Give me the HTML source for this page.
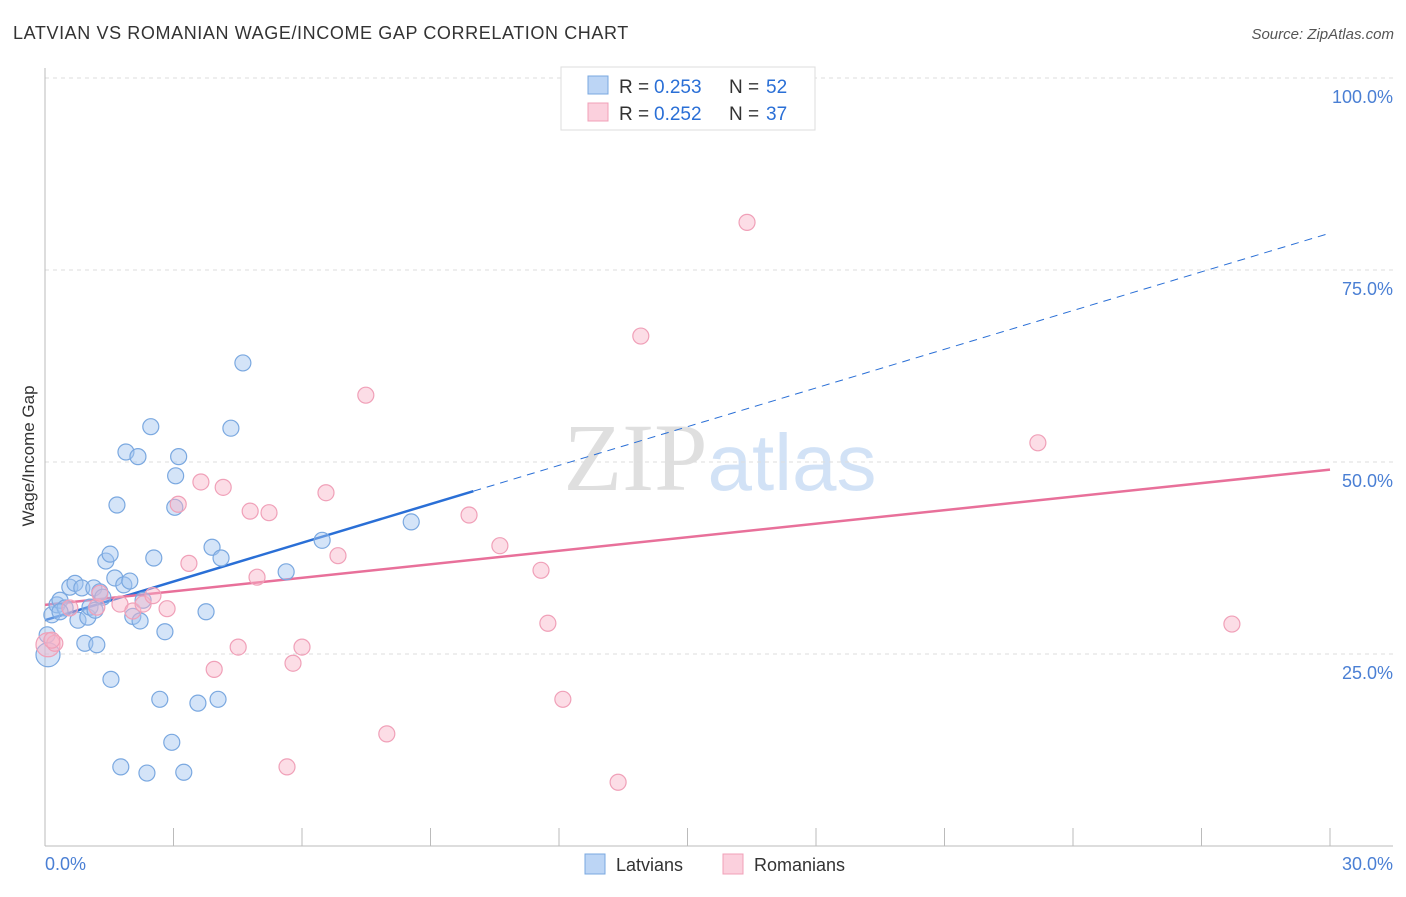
<!DOCTYPE html>
<html><head><meta charset="utf-8"><style>
body{margin:0;background:#fff;font-family:"Liberation Sans",sans-serif}
svg text{font-family:"Liberation Sans",sans-serif}
</style></head><body>
<svg id="chart" width="1406" height="892" viewBox="0 0 1406 892" xmlns="http://www.w3.org/2000/svg">
<text x="13" y="39" font-size="18" fill="#333" letter-spacing="0.6">LATVIAN VS ROMANIAN WAGE/INCOME GAP CORRELATION CHART</text>
<text x="1394" y="39" font-size="15" fill="#555" text-anchor="end" font-style="italic">Source: ZipAtlas.com</text>
<text x="720" y="490" font-size="96" text-anchor="middle" fill="#ddd" opacity="0.8"><tspan font-family="Liberation Serif" fill="#d8d8d8">ZIP</tspan><tspan fill="#c8dcf4" font-size="80">atlas</tspan></text>
<g id="grid"></g>
<g id="axes"></g>
<g id="lines"></g>
<g id="points"></g>
<text transform="translate(34,456) rotate(-90)" font-size="17" fill="#333" text-anchor="middle">Wage/Income Gap</text>
<text x="45" y="870" font-size="18" fill="#4a7fd4">0.0%</text>
<text x="1393" y="870" font-size="18" fill="#4a7fd4" text-anchor="end">30.0%</text>
<g>
<rect x="561" y="67" width="254" height="63" fill="#fff" stroke="#ddd"/>
<rect x="588" y="76" width="20" height="18" fill="#bcd5f5" stroke="#7aa8e0"/>
<rect x="588" y="103" width="20" height="18" fill="#fbd0dd" stroke="#f0a0b8"/>
<text x="619" y="93" font-size="19" fill="#333">R =</text>
<text x="654" y="93" font-size="19" fill="#2a6fd6">0.253</text>
<text x="729" y="93" font-size="19" fill="#333">N =</text>
<text x="766" y="93" font-size="19" fill="#2a6fd6">52</text>
<text x="619" y="120" font-size="19" fill="#333">R =</text>
<text x="654" y="120" font-size="19" fill="#2a6fd6">0.252</text>
<text x="729" y="120" font-size="19" fill="#333">N =</text>
<text x="766" y="120" font-size="19" fill="#2a6fd6">37</text>
</g>
<g>
<rect x="585" y="854" width="20" height="20" fill="#bcd5f5" stroke="#7aa8e0"/>
<text x="616" y="871" font-size="18" fill="#333">Latvians</text>
<rect x="723" y="854" width="20" height="20" fill="#fbd0dd" stroke="#f0a0b8"/>
<text x="754" y="871" font-size="18" fill="#333">Romanians</text>
</g>
</svg>
<script>
const latX=[0.16,0.28,0.35,0.47,0.58,0.70,0.77,0.86,0.93,1.00,1.05,1.14,1.21,1.28,1.35,1.42,1.52,1.54,1.63,1.68,1.77,1.84,1.89,1.98,2.05,2.17,2.22,2.29,2.38,2.47,2.54,2.68,2.80,2.96,3.03,3.05,3.12,3.24,3.57,3.76,3.90,4.04,4.11,4.34,4.62,5.63,6.47,8.55,0.07,0.05,1.17,0.35];
const latY=[30.1,31.4,32.0,31.0,33.7,34.2,29.4,33.6,26.4,29.8,31.1,33.6,26.2,33.1,32.4,37.1,38.0,21.7,34.9,44.4,10.3,34.0,51.3,34.5,29.9,50.7,29.3,32.0,9.5,54.6,37.5,19.1,27.9,13.5,44.1,48.2,50.7,9.6,18.6,30.5,38.9,19.1,37.5,54.4,62.9,35.7,39.8,42.2,24.9,27.5,30.7,30.5];
const romX=[0.07,0.23,0.58,1.21,1.28,1.75,2.05,2.29,2.52,2.85,3.11,3.36,3.64,3.95,4.16,4.51,4.79,4.95,5.23,5.65,5.79,6.00,6.56,6.84,7.49,7.98,9.90,10.62,11.58,11.74,12.09,13.38,13.91,16.39,23.18,27.71,0.16];
const romY=[26.2,26.4,31.0,31.1,32.9,31.5,30.6,31.5,32.6,30.9,44.5,36.8,47.4,23.0,46.7,25.9,43.6,35.0,43.4,10.3,23.8,25.9,46.0,37.8,58.7,14.6,43.1,39.1,35.9,29.0,19.1,8.3,66.4,81.2,52.5,28.9,26.8];
const latTrend=[29.4,1.68];
const romTrend=[31.4,0.587];
const yTicks=[25,50,75,100];
const xTicks=[0,3,6,9,12,15,18,21,24,27,30];
const NS="http://www.w3.org/2000/svg";
const X=v=>45+v*1285/30, Y=v=>846-v*192/25;
function mk(p,t,a){const e=document.createElementNS(NS,t);for(const k in a)e.setAttribute(k,a[k]);document.getElementById(p).appendChild(e);return e;}
yTicks.forEach(t=>{
 const g=mk('grid','line',{x1:45,x2:1393,y1:Y(t),y2:Y(t),stroke:'#ddd','stroke-dasharray':'4,4'});
 
 
 const l=mk('grid','text',{x:1393,y:Y(t)+25,'font-size':18,fill:'#4a7fd4','text-anchor':'end'});
 l.textContent=t.toFixed(1)+'%';
 
 
});
const ax=mk('axes','line',{x1:45,x2:45,y1:68,y2:846,stroke:'#bbb'});


const bx=mk('axes','line',{x1:45,x2:1393,y1:846,y2:846,stroke:'#bbb'});


xTicks.forEach(t=>{
 const k=mk('axes','line',{x1:X(t),x2:X(t),y1:828,y2:846,stroke:'#bbb'});
 
 
});
function pts(xs,ys,fill,stroke,name,bigIdx){xs.forEach((x,i)=>{
 const c=mk('points','circle',{cx:X(x),cy:Y(ys[i]),r:(i===bigIdx?12:8),fill:fill,stroke:stroke,'stroke-width':1.2});
 
 
});}
pts(latX,latY,'rgba(160,196,240,0.45)','#7aa8e0','latvian-point',48);
pts(romX,romY,'rgba(248,180,200,0.45)','#f0a0b8','romanian-point',0);
const l1=mk('lines','line',{x1:X(0),y1:Y(latTrend[0]),x2:X(10),y2:Y(latTrend[0]+10*latTrend[1]),stroke:'#2a6fd6','stroke-width':2.5});


const l2=mk('lines','line',{x1:X(10),y1:Y(latTrend[0]+10*latTrend[1]),x2:X(30),y2:Y(latTrend[0]+30*latTrend[1]),stroke:'#2a6fd6','stroke-width':1,'stroke-dasharray':'8,6'});


const l3=mk('lines','line',{x1:X(0),y1:Y(romTrend[0]),x2:X(30),y2:Y(romTrend[0]+30*romTrend[1]),stroke:'#e8709a','stroke-width':2.5});


</script>
</body></html>
